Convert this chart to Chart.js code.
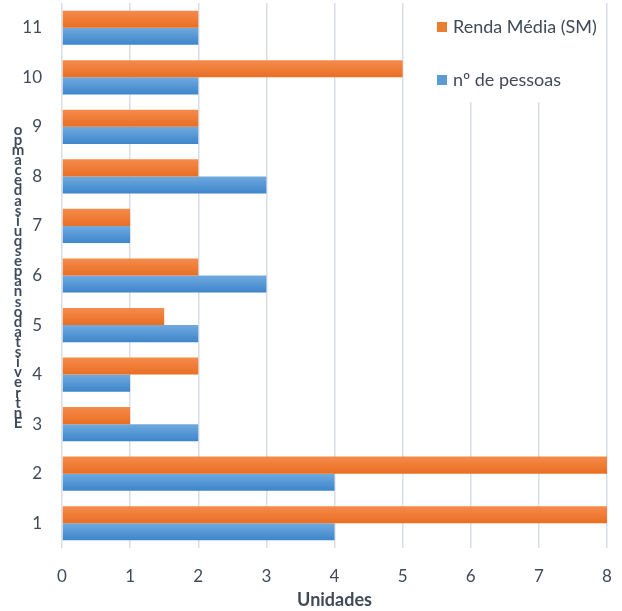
<!DOCTYPE html>
<html>
<head>
<meta charset="utf-8">
<script src="https://cdn.jsdelivr.net/npm/chart.js@4.4.1/dist/chart.umd.min.js"></script>
<style>
  html, body { margin: 0; padding: 0; background: #fff; }
  #caixa { width: 622px; height: 611px; position: relative; }
</style>
</head>
<body>
<div id="caixa"><canvas id="myChart"></canvas></div>
<script>
// dados (categoria 1 ate 11)
const categorias = ['1','2','3','4','5','6','7','8','9','10','11']
const renda = [8, 8, 1, 2, 1.5, 2, 1, 2, 2, 5, 2]
const pessoas = [4, 4, 2, 1, 2, 3, 1, 3, 2, 2, 2]
const ticksX = [0, 1, 2, 3, 4, 5, 6, 7, 8]

const nomes = ['Renda Média (SM)', 'nº de pessoas']
const tituloY = 'Entrevistados na pesquisa de campo'
const tituloX = 'Unidades'

const corRenda = '#ED7D31'
const corPessoas = '#5B9BD5'
// topo e base do degrade de cada serie
const degrades = [['#F58B4C', '#E96E22'], ['#70AADF', '#3D85CB']]
const cinza = '#404B5A'
const fonte = 'Lato, "Open Sans", sans-serif'

// titulo do eixo y com letras empilhadas (de baixo pra cima)
const letrasY = {
  id: 'letrasY',
  afterDraw(chart) {
    const ctx = chart.ctx
    ctx.save()
    ctx.font = 'bold 15px ' + fonte
    ctx.fillStyle = cinza
    ctx.textAlign = 'center'
    ctx.textBaseline = 'middle'
    const chars = tituloY.replace(/ /g, '').split('')
    const base = 423, passo = 293 / (chars.length - 1)
    chars.forEach((c, i) => {
      ctx.fillText(c, 18, base - i * passo)
    })
    ctx.restore()
  }
}

// degrade vertical em cada barra
const degradeBarras = {
  id: 'degradeBarras',
  beforeDatasetsDraw(chart) {
    const ctx = chart.ctx
    chart.data.datasets.forEach((ds, i) => {
      const meta = chart.getDatasetMeta(i)
      meta.data.forEach((bar) => {
        const topo = bar.y - bar.height / 2
        const g = ctx.createLinearGradient(0, topo, 0, topo + bar.height)
        g.addColorStop(0, degrades[i][0])
        g.addColorStop(1, degrades[i][1])
        bar.options = Object.assign({}, bar.options, { backgroundColor: g })
      })
    })
  }
}

// legenda dentro da area do grafico
const legendaDentro = {
  id: 'legendaDentro',
  afterDraw(chart) {
    const ctx = chart.ctx
    ctx.save()
    ctx.fillStyle = '#fff'
    ctx.fillRect(405, 0, 199, 102)
    ctx.font = '18px ' + fonte
    ctx.textBaseline = 'middle'
    ctx.textAlign = 'left'
    const ys = [27, 80]
    chart.data.datasets.forEach((ds, i) => {
      ctx.fillStyle = ds.backgroundColor
      ctx.fillRect(437, ys[i] - 5, 10, 10)
      ctx.fillStyle = cinza
      ctx.fillText(ds.label, 453, ys[i])
    })
    ctx.restore()
  }
}

const ctx = document.getElementById('myChart')

new Chart(ctx, {
  type: 'bar',
  data: {
    labels: categorias.slice().reverse(),
    datasets: [
      {
        label: nomes[0],
        data: renda.slice().reverse(),
        backgroundColor: corRenda,
        categoryPercentage: 0.69,
        barPercentage: 1
      },
      {
        label: nomes[1],
        data: pessoas.slice().reverse(),
        backgroundColor: corPessoas,
        categoryPercentage: 0.69,
        barPercentage: 1
      }
    ]
  },
  options: {
    indexAxis: 'y',
    responsive: true,
    maintainAspectRatio: false,
    animation: false,
    layout: { padding: { top: 3, right: 15, bottom: 0, left: 0 } },
    plugins: {
      legend: { display: false },
      tooltip: { enabled: false }
    },
    scales: {
      x: {
        min: 0,
        max: 8,
        afterBuildTicks: (scale) => { scale.ticks = ticksX.map(v => ({ value: v })) },
        afterFit: (scale) => {
          scale.height = 63
          scale.paddingLeft = 0
          scale.paddingRight = 0
        },
        border: { display: false },
        grid: { color: '#D9DEE6', lineWidth: 1.5, drawTicks: false },
        ticks: { color: cinza, font: { family: fonte, size: 17 }, padding: 18 },
        title: {
          display: true,
          text: tituloX,
          color: cinza,
          font: { family: fonte, size: 18, weight: 'bold' },
          padding: { top: 0, bottom: 0 }
        }
      },
      y: {
        afterFit: (scale) => {
          scale.width = 62
          scale.paddingTop = 0
          scale.paddingBottom = 0
        },
        border: { display: false },
        grid: { display: false, drawTicks: false },
        ticks: { color: cinza, font: { family: fonte, size: 17 }, padding: 20 }
      }
    }
  },
  plugins: [degradeBarras, letrasY, legendaDentro]
})
</script>
</body>
</html>
